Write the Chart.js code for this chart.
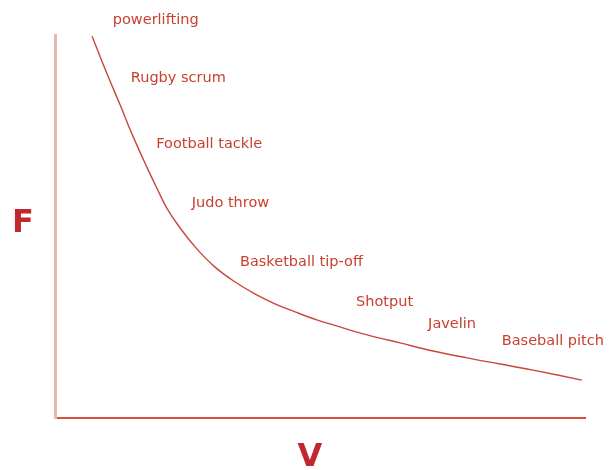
<!DOCTYPE html>
<html lang="en">
<head>
    <meta charset="UTF-8">
    <title>Force-Velocity Curve</title>
    <script src="https://cdn.jsdelivr.net/npm/chart.js"></script>
    <style>
        body { margin: 0; background: #fff; }
        .chart-container { width: 611px; height: 470px; position: relative; }
    </style>
</head>
<body>
    <div class="chart-container">
        <canvas id="fvChart" width="611" height="470"></canvas>
    </div>

    <script>
        // curve (velocity 0-100, force 0-100)
        const velocity = [7.0, 9.6, 12.3, 14.7, 17.4, 19.3, 21.1, 23.6, 26.8, 30.2, 34.0, 37.7, 41.5, 45.3, 49.4, 52.5, 58.9, 65.1, 71.3, 77.7, 84.0, 90.2, 99.4];
        const force = [99.7, 90.6, 81.7, 73.6, 65.3, 59.8, 54.8, 49.6, 44.1, 39.4, 35.5, 32.4, 29.8, 27.7, 25.6, 24.3, 21.7, 19.6, 17.5, 15.7, 14.1, 12.5, 9.9];

        // activities placed along the curve
        const activities = ['powerlifting', 'Rugby scrum', 'Football tackle', 'Judo throw', 'Basketball tip-off', 'Shotput', 'Javelin', 'Baseball pitch'];
        const activityV = [10.9, 14.3, 19.1, 25.8, 34.9, 56.8, 70.4, 84.3];
        const activityF = [103.9, 88.8, 71.5, 56.1, 40.7, 30.3, 24.5, 20.1];

        const labelPlugin = {
            id: 'activityLabels',
            afterDraw(chart) {
                const c = chart.ctx;
                const xs = chart.scales.x, ys = chart.scales.y;
                c.save();
                c.fillStyle = '#c8402f';
                c.font = '14.5px "DejaVu Sans"';
                c.textBaseline = 'middle';
                c.textAlign = 'left';
                activities.forEach((name, i) => {
                    c.fillText(name, xs.getPixelForValue(activityV[i]), ys.getPixelForValue(activityF[i]));
                });
                // axis letters
                c.fillStyle = '#c0282e';
                c.font = 'bold 32px "DejaVu Sans"';
                c.textBaseline = 'alphabetic';
                c.fillText('F', 12, 232);
                c.textAlign = 'center';
                c.fillText('V', 310, 466);
                c.restore();
            }
        };

        const ctx = document.getElementById('fvChart').getContext('2d');
        const fvChart = new Chart(ctx, {
            type: 'scatter',
            data: {
                datasets: [{
                    data: velocity.map((v, i) => ({ x: v, y: force[i] })),
                    showLine: true,
                    borderColor: '#c9473a',
                    borderWidth: 1.4,
                    pointRadius: 0,
                    tension: 0.4
                }]
            },
            options: {
                responsive: false,
                animation: false,
                layout: { padding: { left: 55, right: 26, top: 35, bottom: 52 } },
                plugins: {
                    legend: { display: false },
                    tooltip: { enabled: false }
                },
                scales: {
                    x: {
                        min: 0, max: 100,
                        ticks: { display: false },
                        grid: { display: false, drawTicks: false },
                        border: { color: '#d6503e', width: 2 }
                    },
                    y: {
                        min: 0, max: 100,
                        ticks: { display: false },
                        grid: { display: false, drawTicks: false },
                        border: { color: '#ebb7aa', width: 3 }
                    }
                }
            },
            plugins: [labelPlugin]
        });
    </script>
</body>
</html>
